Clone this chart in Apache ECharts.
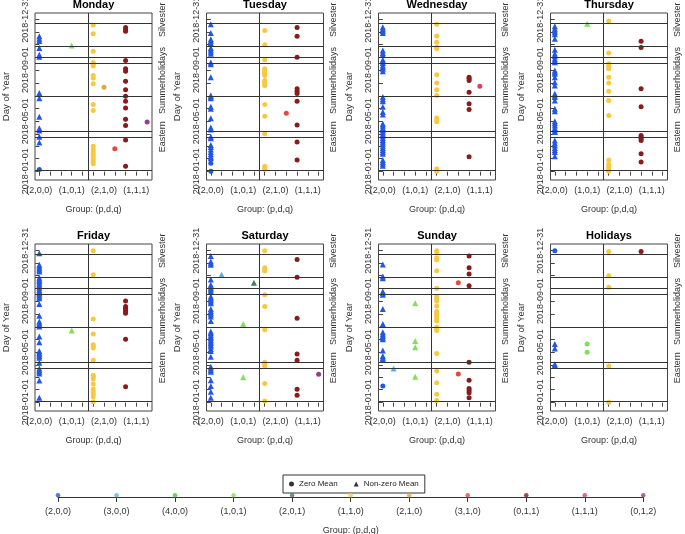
<!DOCTYPE html>
<html><head><meta charset="utf-8">
<script src="https://cdn.jsdelivr.net/npm/echarts@6/dist/echarts.min.js"></script>
<style>html,body{margin:0;padding:0;background:#fff}#c{width:685px;height:534px}</style>
</head><body><div id="c"></div>
<script>
// ---------- data ----------
const groups = ['(2,0,0)','(3,0,0)','(4,0,0)','(1,0,1)','(2,0,1)','(1,1,0)','(2,1,0)','(3,1,0)','(0,1,1)','(1,1,1)','(0,1,2)'];
const groupColors = ['#2256E8','#56B4E0','#3ACC3A','#80E05A','#3D7C6A','#F7C940','#E8A33D','#E5483E','#8B1A1A','#DE405C','#9A3C8C'];
const panelTitles = ['Monday','Tuesday','Wednesday','Thursday','Friday','Saturday','Sunday','Holidays'];
const xTickLabels = ['(2,0,0)','(1,0,1)','(2,1,0)','(1,1,1)'];
const dateTickDays = [1,121,244,365];
const dateTickLabels = ['2018-01-01','2018-05-01','2018-09-01','2018-12-31'];
const monthStartDays = [1,32,60,91,121,152,182,213,244,274,305,335,365];
const holidayBounds = [4,82,96,181,261,274,302,356];
const holidayLabelDays = [1,84,219,365];
const holidayLabels = ['New Year','Eastern','Summerholidays','Silvester'];
const dPhaseSplit = 4.5; // separates d=0 groups from d=1 groups
const legendNames = ['Zero Mean','Non-zero Mean'];

// each entry: [group, nonZeroMean (1) / zeroMean (0), days of year]
const monday = [
  ['(2,0,0)',1,[325,319,314,297,281,276,189,176,132,104,99,84,70]],
  ['(2,0,0)',0,[5]],
  ['(1,0,1)',1,[303]],
  ['(1,1,0)',0,[352,331,289,262,258,254,231,225,211,161,147,61,53,47,41,36,30,24,19]],
  ['(2,1,0)',0,[203]],
  ['(3,1,0)',0,[55]],
  ['(0,1,1)',0,[346,341,337,267,247,241,217,197,181,169,153,126,111,76,13]],
  ['(0,1,2)',0,[119]]
];
const tuesday = [
  ['(2,0,0)',1,[354,333,318,314,309,297,293,288,283,262,258,227,183,180,176,156,151,128,106,101,84,80,64,59,53,47,42,36,32]],
  ['(2,0,0)',0,[20,1]],
  ['(1,1,0)',0,[339,305,269,247,243,239,235,231,219,215,211,207,161,133,91,13,9,5]],
  ['(3,1,0)',0,[140]],
  ['(0,1,1)',0,[346,325,275,199,193,188,169,112,71,28]]
];
const wednesday = [
  ['(2,0,0)',1,[347,342,338,333,291,285,281,269,265,261,255,251,247,241,179,174,169,156,143,137,115,110,105,100,96,91,86,81,76,72,67,62,57,52,47,43,28,23,19,14]],
  ['(1,1,0)',0,[354,326,311,299,295,233,213,197,183,129,124,120,7,3,1]],
  ['(0,1,1)',0,[227,223,219,191,163,149,36]],
  ['(1,1,1)',0,[205]]
];
const thursday = [
  ['(2,0,0)',1,[349,343,339,335,330,319,293,283,277,271,267,263,243,239,235,227,215,207,187,183,179,171,151,145,121,116,111,105,99,95,75,68,63,57,52,47,37]],
  ['(1,0,1)',1,[355]],
  ['(1,1,0)',0,[362,285,259,253,247,227,213,193,171,135,28,17,11,4,1]],
  ['(0,1,1)',0,[313,298,199,156,87,83,79,75,43,23]]
];
const friday = [
  ['(2,0,0)',1,[359,331,327,323,319,315,300,296,292,288,284,280,276,271,267,263,259,255,251,237,209,195,191,187,183,159,145,124,120,116,112,108,96,82,78,74,70,53,12]],
  ['(1,0,1)',1,[173]],
  ['(1,1,0)',0,[365,307,201,165,139,135,131,102,66,62,57,45,33,26,20,14,2]],
  ['(0,1,1)',0,[244,231,227,223,219,215,152,38]]
];
const saturday = [
  ['(2,0,0)',1,[352,339,335,331,296,283,279,275,271,267,255,251,247,243,239,225,220,216,212,207,196,171,167,163,159,155,151,147,143,139,135,129,124,110,86,82,78,74,54,40,26,12]],
  ['(3,0,0)',1,[308]],
  ['(2,0,1)',1,[288]],
  ['(1,0,1)',1,[189,61]],
  ['(1,1,0)',0,[365,324,320,316,259,231,175,97,92,88,46,4]],
  ['(0,1,1)',0,[344,301,203,117,102,32,18]],
  ['(0,1,2)',0,[68]]
];
const sunday = [
  ['(2,0,0)',1,[332,303,299,267,263,259,225,189,169,164,160,156,152,125,112,108,104]],
  ['(2,0,0)',0,[40]],
  ['(3,0,0)',1,[82]],
  ['(1,0,1)',1,[239,148,133,62]],
  ['(1,1,0)',0,[365,362,348,343,317,275,255,249,244,232,219,215,211,207,201,196,181,177,173,118,76,48,20,5]],
  ['(3,1,0)',0,[288,69]],
  ['(0,1,1)',0,[352,324,309,281,97,54,34,29,24,12]]
];
const holidays = [
  ['(2,0,0)',0,[365]],
  ['(2,0,0)',1,[141,130,92,89]],
  ['(1,0,1)',0,[141,121]],
  ['(1,1,0)',0,[363,305,277,88,1]],
  ['(0,1,1)',0,[363]]
];

// ---------- layout ----------
const FONT = 'Liberation Sans, Arial, sans-serif';
const colLeft = [35, 206.5, 378.5, 550.5];
const rowTop = [13, 244];
const W = 117, H = 167;
const X_MIN = -0.4, X_MAX = 10.45, Y_MIN = -20, Y_MAX = 381;

const panels = [monday, tuesday, wednesday, thursday, friday, saturday, sunday, holidays];
const grid = [], xAxis = [], yAxis = [], series = [], graphic = [];
const axisTxt = {fontFamily: FONT, fontSize: 9, color: '#333'};

panels.forEach((pts, p) => {
  const left = colLeft[p % 4], top = rowTop[Math.floor(p / 4)];
  grid.push({left, top, width: W, height: H, show: true, borderColor: '#444', borderWidth: 1,
    backgroundColor: 'transparent', containLabel: false, outerBoundsMode: 'none'});
  xAxis.push({
    type: 'value', gridIndex: p, min: X_MIN, max: X_MAX,
    axisLine: {show: false}, splitLine: {show: false},
    axisTick: {show: true, customValues: groups.map((g, i) => i), length: 4, lineStyle: {color: '#444'}},
    axisLabel: Object.assign({customValues: xTickLabels.map(l => groups.indexOf(l)), formatter: v => groups[Math.round(v)], margin: 6}, axisTxt),
    name: 'Group: (p,d,q)', nameLocation: 'middle', nameGap: 25,
    nameTextStyle: {fontFamily: FONT, fontSize: 9, color: '#333'}
  });
  yAxis.push({
    type: 'value', gridIndex: p, min: Y_MIN, max: Y_MAX, position: 'left',
    axisLine: {show: false}, splitLine: {show: false},
    axisTick: {show: true, customValues: monthStartDays, length: 4, lineStyle: {color: '#444'}},
    axisLabel: Object.assign({customValues: dateTickDays, rotate: 90, margin: 5,
      formatter: v => dateTickLabels[dateTickDays.indexOf(Math.round(v))]}, axisTxt),
    name: 'Day of Year', nameLocation: 'middle', nameGap: 24, nameRotate: 90,
    nameTextStyle: {fontFamily: FONT, fontSize: 9.5, color: '#333'}
  }, {
    type: 'value', gridIndex: p, min: Y_MIN, max: Y_MAX, position: 'right',
    axisLine: {show: false}, splitLine: {show: false}, axisTick: {show: false},
    axisLabel: Object.assign({customValues: holidayLabelDays, rotate: 90, margin: 6,
      formatter: v => holidayLabels[holidayLabelDays.indexOf(Math.round(v))]}, axisTxt)
  });
  series.push({
    type: 'scatter', xAxisIndex: p, yAxisIndex: 2 * p, data: [], silent: true, z: 1,
    markLine: {silent: true, symbol: ['none', 'none'], label: {show: false}, animation: false,
      lineStyle: {color: '#333', width: 1, type: 'solid'},
      data: holidayBounds.map(d => ({yAxis: d})).concat([{xAxis: dPhaseSplit}])}
  });
  pts.forEach(([g, nz, days]) => {
    const gi = groups.indexOf(g);
    series.push({
      type: 'scatter', xAxisIndex: p, yAxisIndex: 2 * p, silent: true, z: 3,
      data: days.map(d => [gi, d]),
      symbol: nz ? 'triangle' : 'circle', symbolSize: nz ? 6 : 5,
      itemStyle: {color: groupColors[gi], opacity: 1}
    });
  });
  graphic.push({type: 'text', x: left + W / 2, y: top - 14,
    style: {text: panelTitles[p], align: 'center', verticalAlign: 'top', font: 'bold 11px ' + FONT, fill: '#000'}});
});

// ---------- bottom colour key ----------
const K = panels.length;
grid.push({left: 58, top: 487, width: 585.3, height: 10, show: false, outerBoundsMode: 'none'});
xAxis.push({
  type: 'value', gridIndex: K, min: 0, max: groups.length - 1, position: 'bottom',
  axisLine: {show: true, onZero: false, lineStyle: {color: '#333', width: 1}},
  splitLine: {show: false},
  axisTick: {show: true, customValues: groups.map((g, i) => i), length: 5, lineStyle: {color: '#333'}},
  axisLabel: Object.assign({customValues: groups.map((g, i) => i), formatter: v => groups[Math.round(v)], margin: 10}, axisTxt),
  name: 'Group: (p,d,q)', nameLocation: 'middle', nameGap: 29,
  nameTextStyle: {fontFamily: FONT, fontSize: 9, color: '#333'}
});
yAxis.push({type: 'value', gridIndex: K, min: -0.2, max: 1, show: false});
series.push({
  type: 'scatter', xAxisIndex: K, yAxisIndex: 2 * K, silent: true, z: 4,
  symbol: 'circle', symbolSize: 4.5,
  data: groups.map((g, i) => ({value: [i, 0], itemStyle: {color: groupColors[i]}}))
});
series.push({name: legendNames[0], type: 'scatter', xAxisIndex: K, yAxisIndex: 2 * K, data: [], symbol: 'circle', itemStyle: {color: '#000'}});
series.push({name: legendNames[1], type: 'scatter', xAxisIndex: K, yAxisIndex: 2 * K, data: [], symbol: 'triangle', itemStyle: {color: '#000'}});

const chart = echarts.init(document.getElementById('c'), null, {renderer: 'canvas'});
chart.setOption({
  animation: false,
  backgroundColor: '#fff',
  textStyle: {fontFamily: FONT},
  grid, xAxis, yAxis, series, graphic,
  legend: {
    left: 283, top: 475, orient: 'horizontal', selectedMode: false,
    borderColor: '#333', borderWidth: 1, padding: [5, 6, 5, 6],
    itemWidth: 5, itemHeight: 5, itemGap: 16,
    textStyle: {fontFamily: FONT, fontSize: 8, color: '#222'},
    data: [{name: legendNames[0], icon: 'circle'}, {name: legendNames[1], icon: 'triangle'}]
  }
});
</script></body></html>
